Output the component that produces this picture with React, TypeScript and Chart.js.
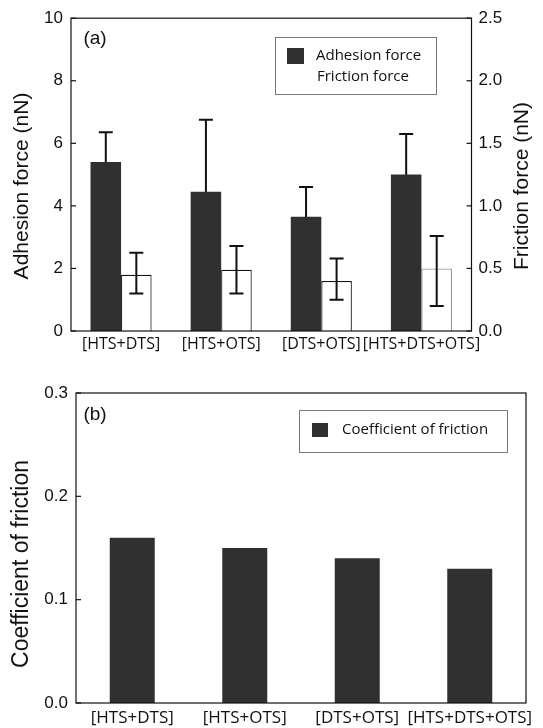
import React, { useEffect, useRef } from "react";
import { Chart, registerables } from "chart.js";
Chart.register(...registerables);

const categories = ["[HTS+DTS]", "[HTS+OTS]", "[DTS+OTS]", "[HTS+DTS+OTS]"];
const adhesionForce = [5.4, 4.45, 3.65, 5.0];
const adhesionErr = [0.95, 2.3, 0.95, 1.3];
const frictionForce = [0.45, 0.49, 0.4, 0.5];
const frictionErrPlus = [0.175, 0.19, 0.18, 0.26];
const frictionErrMinus = [0.15, 0.19, 0.15, 0.3];
const coefficient = [0.16, 0.15, 0.14, 0.13];
const adhesionTicks = [0, 2, 4, 6, 8, 10];
const frictionTicks = [0, 0.5, 1.0, 1.5, 2.0, 2.5];
const coefTicks = [0, 0.1, 0.2, 0.3];

const TICK_FONT = { family: "'Liberation Sans', Arial, sans-serif", size: 17 };
const INK = "#111111";
const DARK = "#303030";

function drawErrors(chart: any, behind: boolean) {
  const ctx = chart.ctx;
  chart.data.datasets.forEach((ds: any, i: number) => {
    if (!ds.errPlus || !!ds.errBehind !== behind) return;
    const meta = chart.getDatasetMeta(i);
    const sc = chart.scales[meta.yAxisID];
    meta.data.forEach((el: any, j: number) => {
      const v = ds.data[j];
      const yT = sc.getPixelForValue(v + ds.errPlus[j]);
      const yB = sc.getPixelForValue(v - ds.errMinus[j]);
      const x = el.x;
      ctx.save();
      ctx.strokeStyle = INK;
      ctx.lineWidth = 2;
      ctx.beginPath();
      ctx.moveTo(x, yT);
      ctx.lineTo(x, yB);
      ctx.moveTo(x - 7, yT);
      ctx.lineTo(x + 7, yT);
      ctx.moveTo(x - 7, yB);
      ctx.lineTo(x + 7, yB);
      ctx.stroke();
      ctx.restore();
    });
  });
}

const decorPlugin = {
  id: "decor",
  beforeDatasetsDraw(chart: any) {
    drawErrors(chart, true);
  },
  afterDatasetsDraw(chart: any) {
    drawErrors(chart, false);
  },
  afterDraw(chart: any) {
    const o = chart.options.plugins.decor;
    if (!o) return;
    const ctx = chart.ctx;
    const a = chart.chartArea;
    ctx.save();
    ctx.strokeStyle = INK;
    ctx.lineWidth = 1.2;
    ctx.strokeRect(a.left, a.top, a.right - a.left, a.bottom - a.top);
    (o.tickScales || []).forEach((t: any) => {
      const sc = chart.scales[t.id];
      sc.ticks.forEach((tk: any) => {
        const y = sc.getPixelForValue(tk.value);
        ctx.beginPath();
        if (t.side === "left") {
          ctx.moveTo(a.left, y);
          ctx.lineTo(a.left + 5, y);
        } else {
          ctx.moveTo(a.right - 5, y);
          ctx.lineTo(a.right, y);
        }
        ctx.stroke();
      });
    });
    (o.titles || []).forEach((t: any) => {
      ctx.save();
      ctx.translate(t.x, t.y);
      ctx.rotate(t.rot || 0);
      ctx.font = t.font;
      ctx.fillStyle = INK;
      ctx.textAlign = "center";
      ctx.textBaseline = "middle";
      ctx.fillText(t.text, 0, 0);
      ctx.restore();
    });
    if (o.legend) {
      const L = o.legend;
      ctx.strokeStyle = "#7a7a7a";
      ctx.lineWidth = 1;
      ctx.strokeRect(L.box[0] + 0.5, L.box[1] + 0.5, L.box[2], L.box[3]);
      L.items.forEach((it: any) => {
        const ds = chart.data.datasets[it.datasetIndex];
        if (it.swatch) {
          ctx.fillStyle = ds.backgroundColor;
          ctx.fillRect(it.sx, it.sy, it.sw, it.sh);
        }
        ctx.fillStyle = INK;
        ctx.font = L.font;
        ctx.textAlign = "left";
        ctx.textBaseline = "middle";
        ctx.fillText(ds.label, it.tx, it.ty);
      });
    }
    ctx.restore();
  },
};

function fixedTicks(values: number[]) {
  return (scale: any) => {
    scale.ticks = values.map((v) => ({ value: v }));
  };
}

function topConfig(): any {
  return {
    type: "bar",
    data: {
      labels: categories,
      datasets: [
        {
          label: "Adhesion force",
          data: adhesionForce,
          errPlus: adhesionErr,
          errMinus: adhesionErr,
          errBehind: true,
          backgroundColor: DARK,
          borderWidth: 0,
          yAxisID: "y",
          categoryPercentage: 0.61,
          barPercentage: 1.0,
        },
        {
          label: "Friction force",
          data: frictionForce,
          errPlus: frictionErrPlus,
          errMinus: frictionErrMinus,
          backgroundColor: "#ffffff",
          borderColor: [INK, INK, INK, "#9a9a9a"],
          borderWidth: 1.2,
          yAxisID: "y1",
          categoryPercentage: 0.61,
          barPercentage: 1.0,
        },
      ],
    },
    options: {
      responsive: false,
      animation: false,
      devicePixelRatio: 1,
      layout: { padding: { top: 15, left: 0, right: 0, bottom: 0 } },
      plugins: {
        legend: { display: false },
        tooltip: { enabled: false },
        decor: {
          tickScales: [
            { id: "y", side: "left" },
            { id: "y1", side: "right" },
          ],
          titles: [
            { text: "Adhesion force (nN)", x: 22, y: 186, rot: -Math.PI / 2, font: "21px 'Liberation Sans', Arial, sans-serif" },
            { text: "Friction force (nN)", x: 522, y: 186, rot: -Math.PI / 2, font: "21px 'Liberation Sans', Arial, sans-serif" },
            { text: "(a)", x: 95, y: 39, rot: 0, font: "19px 'Liberation Sans', Arial, sans-serif" },
          ],
          legend: {
            box: [275, 37, 161, 57],
            font: "15px 'Open Sans', sans-serif",
            items: [
              { datasetIndex: 0, swatch: true, sx: 287, sy: 48, sw: 17, sh: 16, tx: 316, ty: 56 },
              { datasetIndex: 1, swatch: false, tx: 317, ty: 77 },
            ],
          },
        },
      },
      scales: {
        x: {
          grid: { display: false, drawTicks: false },
          border: { display: false },
          ticks: {
            autoSkip: false,
            maxRotation: 0,
            minRotation: 0,
            padding: 4,
            color: INK,
            font: { family: "'Open Sans', sans-serif", size: 16 },
          },
          afterFit: (s: any) => {
            s.height = 29;
          },
        },
        y: {
          position: "left",
          min: 0,
          max: 10,
          grid: { display: false, drawTicks: false },
          border: { display: false },
          afterBuildTicks: fixedTicks(adhesionTicks),
          ticks: { padding: 8, color: INK, font: TICK_FONT },
          afterFit: (s: any) => {
            s.width = 71;
          },
        },
        y1: {
          position: "right",
          min: 0,
          max: 2.5,
          grid: { display: false, drawTicks: false },
          border: { display: false },
          afterBuildTicks: fixedTicks(frictionTicks),
          ticks: {
            padding: 7,
            color: INK,
            font: TICK_FONT,
            callback: (v: any) => Number(v).toFixed(1),
          },
          afterFit: (s: any) => {
            s.width = 71.5;
          },
        },
      },
    },
    plugins: [decorPlugin],
  };
}

function bottomConfig(): any {
  return {
    type: "bar",
    data: {
      labels: categories,
      datasets: [
        {
          label: "Coefficient of friction",
          data: coefficient,
          backgroundColor: DARK,
          borderWidth: 0,
          categoryPercentage: 1.0,
          barPercentage: 0.4,
        },
      ],
    },
    options: {
      responsive: false,
      animation: false,
      devicePixelRatio: 1,
      layout: { padding: { top: 33, left: 0, right: 17, bottom: 0 } },
      plugins: {
        legend: { display: false },
        tooltip: { enabled: false },
        decor: {
          tickScales: [{ id: "y", side: "left" }],
          titles: [
            { text: "Coefficient of friction", x: 22, y: 204, rot: -Math.PI / 2, font: "23px 'Liberation Sans', Arial, sans-serif" },
            { text: "(b)", x: 95, y: 55, rot: 0, font: "19px 'Liberation Sans', Arial, sans-serif" },
          ],
          legend: {
            box: [299, 50, 208, 42],
            font: "15px 'Open Sans', sans-serif",
            items: [{ datasetIndex: 0, swatch: true, sx: 312, sy: 63, sw: 16, sh: 14, tx: 342, ty: 70 }],
          },
        },
      },
      scales: {
        x: {
          grid: { display: false, drawTicks: false },
          border: { display: false },
          ticks: {
            autoSkip: false,
            maxRotation: 0,
            minRotation: 0,
            padding: 5,
            color: INK,
            font: { family: "'Open Sans', sans-serif", size: 17 },
          },
          afterFit: (s: any) => {
            s.height = 25;
          },
        },
        y: {
          position: "left",
          min: 0,
          max: 0.3,
          grid: { display: false, drawTicks: false },
          border: { display: false },
          afterBuildTicks: fixedTicks(coefTicks),
          ticks: {
            padding: 8,
            color: INK,
            font: TICK_FONT,
            callback: (v: any) => Number(v).toFixed(1),
          },
          afterFit: (s: any) => {
            s.width = 76;
          },
        },
      },
    },
    plugins: [decorPlugin],
  };
}

export default function App() {
  const topRef = useRef<HTMLCanvasElement>(null);
  const botRef = useRef<HTMLCanvasElement>(null);
  useEffect(() => {
    const c1 = new Chart(topRef.current as HTMLCanvasElement, topConfig());
    const c2 = new Chart(botRef.current as HTMLCanvasElement, bottomConfig());
    return () => {
      c1.destroy();
      c2.destroy();
    };
  }, []);
  return (
    <div style={{ position: "absolute", left: 0, top: 0, width: 543, height: 728, background: "#fff" }}>
      <div style={{ position: "absolute", left: 0, top: 0, width: 543, height: 360 }}>
        <canvas ref={topRef} width={543} height={360} style={{ display: "block", width: 543, height: 360 }} />
      </div>
      <div style={{ position: "absolute", left: 0, top: 360, width: 543, height: 368 }}>
        <canvas ref={botRef} width={543} height={368} style={{ display: "block", width: 543, height: 368 }} />
      </div>
    </div>
  );
}
